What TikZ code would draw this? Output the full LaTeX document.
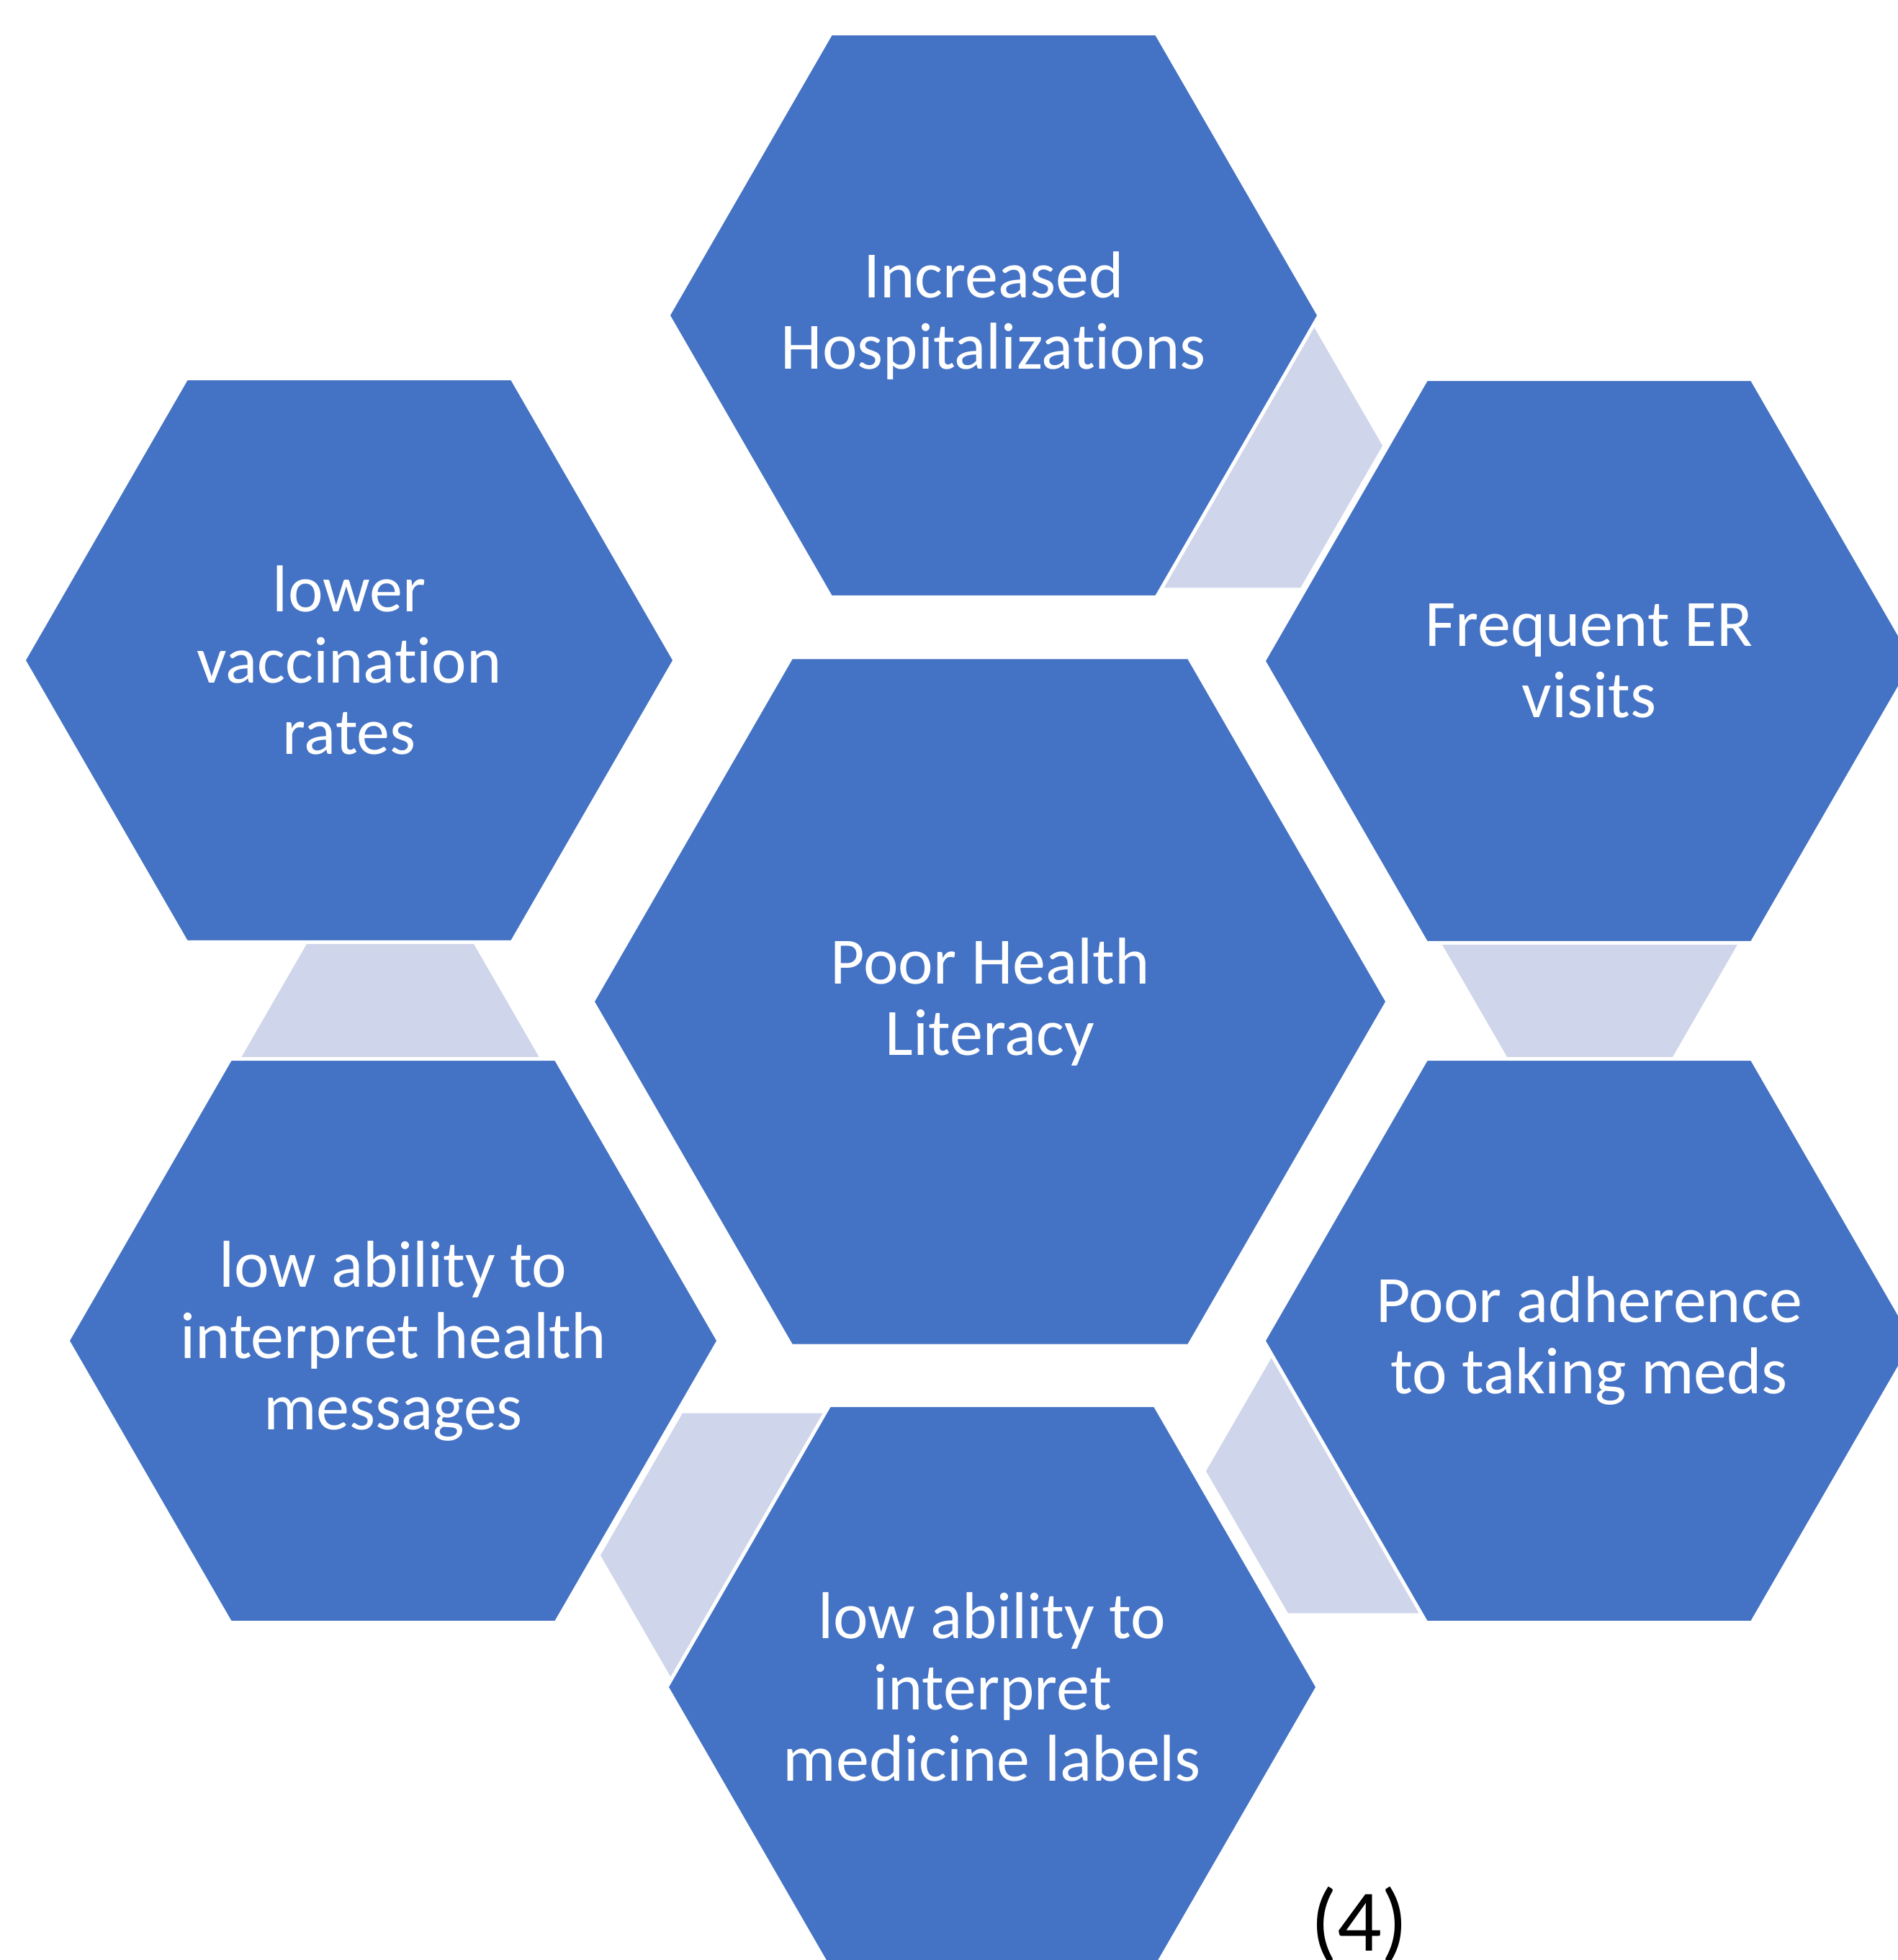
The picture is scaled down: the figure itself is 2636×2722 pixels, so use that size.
\documentclass[tikz,border=0pt]{standalone}
\usepackage{fontspec}
\setmainfont{Carlito}[Ligatures=NoCommon]
\usepackage{tikz}
\usetikzlibrary{shapes.geometric}

\definecolor{hexblue}{HTML}{4472C4}
\definecolor{linkblue}{HTML}{CFD5EA}

\begin{document}
\begin{tikzpicture}[
	x=1pt, y=-1pt,
  hexcell/.style = {regular polygon,regular polygon sides=6,minimum size=904pt,inner sep=0pt,fill=hexblue,draw=white,line width=5pt},
  hubcell/.style = {hexcell,minimum size=1104pt},
  linkcell/.style = {regular polygon,regular polygon sides=6,minimum size=456pt,inner sep=0pt,fill=linkblue},
  celltext/.style = {text=white,align=center,inner sep=0pt,font=\fontsize{92}{99}\selectfont}
  ]
	\useasboundingbox (0,0) rectangle (2636,2722);

	\coordinate (@hub) at (1375,1391);
	\coordinate (@t) at (1380,438);
	\coordinate (@ur) at (2207,918);
	\coordinate (@lr) at (2207,1862);
	\coordinate (@b) at (1378,2343);
	\coordinate (@ll) at (546,1862);
	\coordinate (@ul) at (485,917);

	% light cells sitting behind the ring
	\node[linkcell] (l1) at (1692,619) {};
	\node[linkcell] (l2) at (2208,1272) {};
	\node[linkcell] (l3) at (1903,2043) {};
	\node[linkcell] (l4) at (1062,2160) {};
	\node[linkcell] (l5) at (542,1505) {};

	\node[hubcell] (hub) at (@hub) {};
	\node[hexcell] (t) at (@t) {};
	\node[hexcell] (ur) at (@ur) {};
	\node[hexcell] (lr) at (@lr) {};
	\node[hexcell] (b) at (@b) {};
	\node[hexcell] (ll) at (@ll) {};
	\node[hexcell] (ul) at (@ul) {};

	\node[celltext] (hub-txt) at (hub.center) {Poor Health\\Literacy};
	\node[celltext] (t-txt) at (t.center) {Increased\\Hospitalizations};
	\node[celltext] (ur-txt) at (ur.center) {Frequent ER\\visits};
	\node[celltext] (lr-txt) at (lr.center) {Poor adherence\\to taking meds};
	\node[celltext] (b-txt) at (b.center) {low ability to\\interpret\\medicine labels};
	\node[celltext] (ll-txt) at (ll.center) {low ability to\\interpret health\\messages};
	\node[celltext] (ul-txt) at (ul.center) {lower\\vaccination\\rates};

	\node[anchor=base,font=\fontsize{122}{130}\selectfont] (num) at (1888,2709) {(4)};

\end{tikzpicture}
\end{document}
